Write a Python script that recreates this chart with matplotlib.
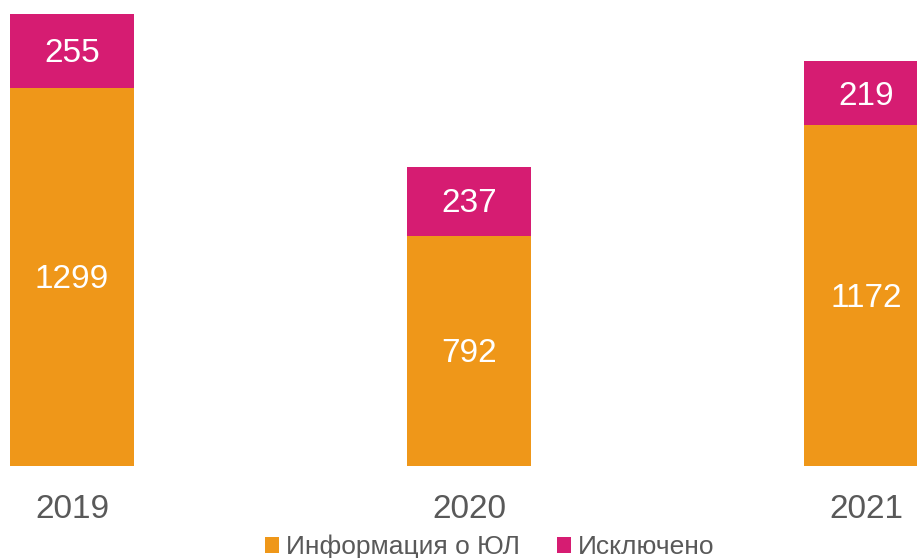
import matplotlib
matplotlib.use("Agg")
import matplotlib.pyplot as plt

years = ["2019", "2020", "2021"]
info_ul = [1299, 792, 1172]
excluded = [255, 237, 219]

orange = "#EF9719"
magenta = "#D61C72"
gray = "#595959"

plt.rcParams["font.family"] = ["Liberation Sans", "DejaVu Sans"]

fig = plt.figure(figsize=(9.17, 5.58), dpi=100)
ax = fig.add_axes([0, 92 / 558, 1, 452 / 558])

x = list(range(len(years)))
width = 0.312
b1 = ax.bar(x, info_ul, width=width, color=orange, label="Информация о ЮЛ")
b2 = ax.bar(x, excluded, width=width, bottom=info_ul, color=magenta, label="Исключено")
for bars, vals in ((b1, info_ul), (b2, excluded)):
    for rect, v in zip(bars, vals):
        ax.annotate(str(v), (rect.get_x() + rect.get_width() / 2,
                             rect.get_y() + rect.get_height() / 2),
                    xytext=(0, -2), textcoords="offset points",
                    ha="center", va="center", color="white", fontsize=24)

ax.set_xlim(-72 / 397, 845 / 397)
ax.set_ylim(0, info_ul[0] + excluded[0])
ax.set_xticks(x)
ax.set_xticklabels(years, fontsize=24, color=gray)
ax.tick_params(axis="x", length=0, pad=20)
ax.set_yticks([])
for s in ax.spines.values():
    s.set_visible(False)

fig.legend(loc="center", bbox_to_anchor=(0.534, 1 - 547 / 558), ncol=2,
           frameon=False, fontsize=19, labelcolor=gray,
           handlelength=0.55, handleheight=0.55, handletextpad=0.25,
           columnspacing=1.4, borderaxespad=0, borderpad=0)

fig.savefig("out.png", dpi=100)
